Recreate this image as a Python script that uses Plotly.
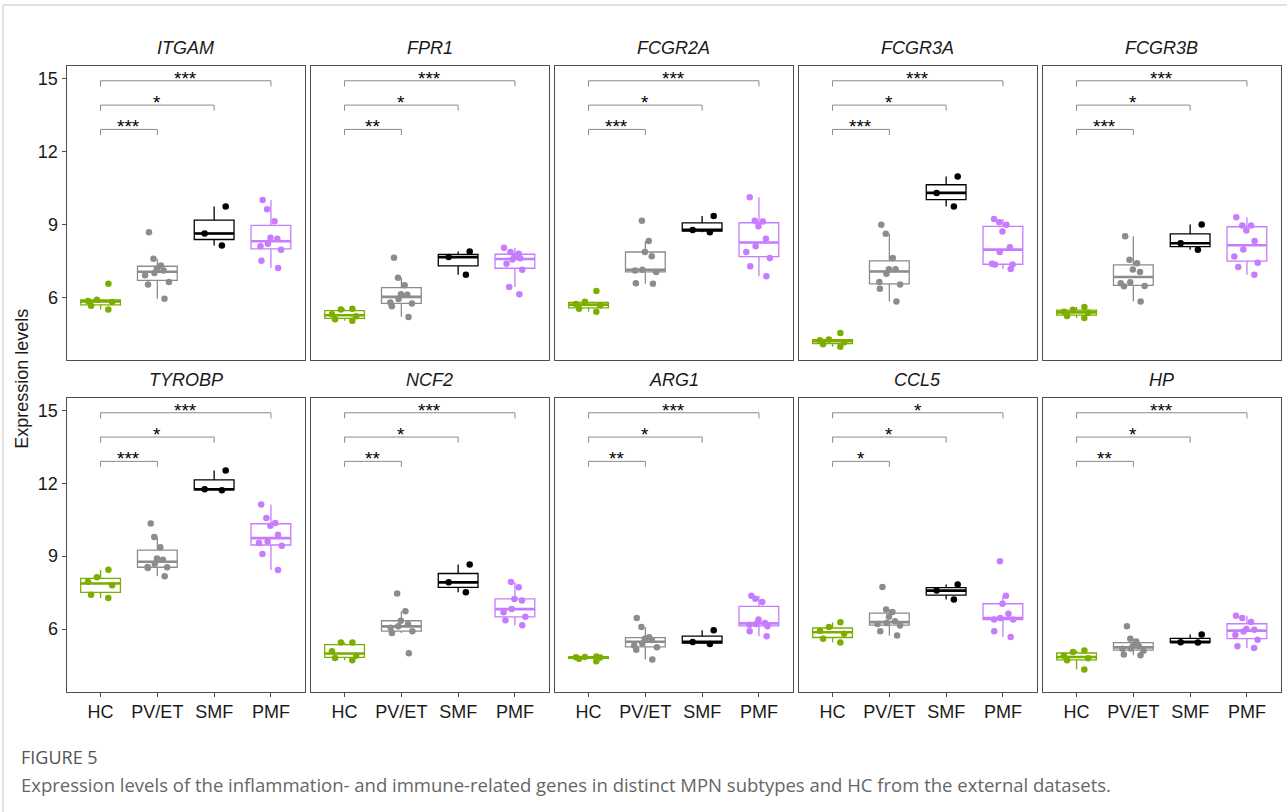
import numpy as np
import plotly.graph_objects as go

W, H = 1287, 812

groups = ["HC", "PV/ET", "SMF", "PMF"]
group_colors = ["#7CAE00", "#8C8C8C", "#000000", "#C77CFF"]
genes = ["ITGAM", "FPR1", "FCGR2A", "FCGR3A", "FCGR3B",
         "TYROBP", "NCF2", "ARG1", "CCL5", "HP"]

ITGAM = {"HC": [5.65, 5.85, 5.9, 5.5, 6.55, 5.8],
         "PV/ET": [8.67, 7.58, 7.31, 7.17, 6.9, 7.0, 6.52, 6.63, 5.94, 7.1],
         "SMF": [9.73, 8.62, 8.13],
         "PMF": [10.0, 9.62, 9.12, 8.45, 8.4, 8.2, 8.1, 7.95, 7.5, 7.2]}
FPR1 = {"HC": [5.03, 5.1, 5.5, 5.53, 5.22, 5.3],
        "PV/ET": [7.62, 6.8, 6.49, 6.12, 5.93, 5.78, 5.74, 5.63, 5.19, 6.1],
        "SMF": [7.88, 7.65, 6.93],
        "PMF": [7.79, 7.86, 8.03, 7.55, 7.38, 7.13, 6.42, 6.12, 7.6, 7.7]}
FCGR2A = {"HC": [6.26, 5.81, 5.67, 5.53, 5.4, 5.72],
          "PV/ET": [9.15, 8.31, 7.86, 7.69, 7.13, 7.04, 6.58, 6.56, 7.1],
          "SMF": [9.34, 8.77, 8.67],
          "PMF": [10.11, 9.15, 9.11, 8.92, 8.4, 8.1, 7.86, 7.61, 7.27, 6.86]}
FCGR3A = {"HC": [4.53, 4.26, 4.23, 4.07, 3.96, 4.15],
          "PV/ET": [8.98, 8.61, 7.61, 7.15, 7.15, 6.97, 6.63, 6.52, 6.35, 5.83],
          "SMF": [10.96, 10.29, 9.73],
          "PMF": [9.08, 9.22, 8.98, 8.7, 8.06, 7.86, 7.35, 7.35, 7.38, 7.16]}
FCGR3B = {"HC": [5.6, 5.49, 5.23, 5.36, 5.15, 5.4],
          "PV/ET": [8.51, 7.54, 7.4, 7.14, 7.04, 6.58, 6.46, 6.45, 5.83, 6.62],
          "SMF": [8.99, 8.22, 7.95],
          "PMF": [9.29, 8.95, 8.95, 8.74, 8.31, 7.96, 7.68, 7.42, 7.24, 6.93]}
TYROBP = {"HC": [8.44, 8.13, 7.8, 7.41, 7.28, 7.95],
          "PV/ET": [10.34, 9.79, 9.36, 8.9, 8.69, 8.54, 8.55, 8.51, 8.17, 8.85],
          "SMF": [12.52, 11.71, 11.75],
          "PMF": [11.12, 10.57, 10.25, 10.36, 9.88, 9.54, 9.43, 9.09, 8.43, 9.6]}
NCF2 = {"HC": [5.45, 5.45, 5.08, 4.9, 4.81, 4.71],
        "PV/ET": [7.46, 6.73, 6.34, 6.11, 5.91, 5.84, 5.0, 6.05, 6.2],
        "SMF": [8.65, 7.92, 7.51],
        "PMF": [7.94, 7.72, 7.24, 7.17, 6.82, 6.69, 6.5, 6.36, 6.15]}
ARG1 = {"HC": [4.78, 4.87, 4.85, 4.84, 4.67, 4.83],
        "PV/ET": [6.45, 6.08, 5.66, 5.6, 5.4, 5.32, 5.15, 4.75, 5.55, 5.25],
        "SMF": [5.95, 5.47, 5.38],
        "PMF": [7.37, 7.11, 6.39, 6.21, 6.18, 5.91, 6.11, 5.7, 7.25, 6.25]}
CCL5 = {"HC": [6.28, 6.08, 5.93, 5.8, 5.6, 5.45],
        "PV/ET": [7.73, 6.8, 6.5, 6.14, 6.21, 6.32, 5.91, 5.73, 6.7, 6.25],
        "SMF": [7.83, 7.58, 7.21],
        "PMF": [8.79, 7.37, 7.04, 6.63, 6.45, 6.39, 6.39, 5.91, 5.67]}
HP = {"HC": [5.12, 5.05, 4.9, 4.71, 4.33, 4.8],
      "PV/ET": [6.11, 5.6, 5.49, 5.29, 5.19, 4.95, 4.92, 5.11, 5.3, 5.2],
      "SMF": [5.77, 5.44, 5.46],
      "PMF": [6.55, 6.45, 6.29, 5.97, 5.9, 5.56, 5.29, 5.22, 6.0, 5.75]}

gene_data = [ITGAM, FPR1, FCGR2A, FCGR3A, FCGR3B, TYROBP, NCF2, ARG1, CCL5, HP]

# significance labels for HC vs PMF, HC vs SMF, HC vs PV/ET
sig_pmf = ["***", "***", "***", "***", "***", "***", "***", "***", "*", "***"]
sig_smf = ["*", "*", "*", "*", "*", "*", "*", "*", "*", "*"]
sig_pv = ["***", "**", "***", "***", "***", "***", "**", "**", "*", "**"]
bracket_levels = [14.9, 13.9, 12.9]
bracket_drop = 0.23

y_ticks = [6, 9, 12, 15]
y_range = [3.42, 15.52]
x_range = [-0.6, 3.6]
box_half = 0.35

FONT = "Arial, Liberation Sans, sans-serif"

# panel geometry (pixels)
col_x0 = [66.5 + i * 244 for i in range(5)]
panel_w = 238.5
row_y = [(65.7, 360.0), (397.7, 691.7)]

fig = go.Figure()
layout = dict(
    width=W, height=H, margin=dict(l=0, r=0, t=0, b=0),
    paper_bgcolor="white", plot_bgcolor="white",
    showlegend=False, boxmode="overlay",
    font=dict(family=FONT, color="#1a1a1a"),
)
shapes = []
annotations = []

def stats(v):
    a = np.sort(np.asarray(v, dtype=float))
    q1, med, q3 = np.percentile(a, [25, 50, 75])
    iqr = q3 - q1
    lo = a[a >= q1 - 1.5 * iqr].min()
    hi = a[a <= q3 + 1.5 * iqr].max()
    return q1, med, q3, lo, hi

for k, (gene, data) in enumerate(zip(genes, gene_data)):
    r, c = divmod(k, 5)
    n = k + 1
    xa = "x" if n == 1 else f"x{n}"
    ya = "y" if n == 1 else f"y{n}"
    x0p = col_x0[c]
    x1p = x0p + panel_w
    yt, yb = row_y[r]
    dom_x = [x0p / W, x1p / W]
    dom_y = [1 - yb / H, 1 - yt / H]

    layout[f"xaxis{'' if n == 1 else n}"] = dict(
        domain=dom_x, anchor=ya, type="category",
        categoryorder="array", categoryarray=groups,
        range=x_range, showgrid=False, zeroline=False,
        showline=True, mirror=True, linecolor="#4d4d4d", linewidth=1,
        ticks="outside" if r == 1 else "", ticklen=4, tickwidth=1,
        tickcolor="#4d4d4d", showticklabels=(r == 1),
        tickfont=dict(size=18, color="#1a1a1a", family=FONT),
        fixedrange=True,
    )
    layout[f"yaxis{'' if n == 1 else n}"] = dict(
        domain=dom_y, anchor=xa, range=y_range,
        tickvals=y_ticks, showgrid=False, zeroline=False,
        showline=True, mirror=True, linecolor="#4d4d4d", linewidth=1,
        ticks="outside" if c == 0 else "", ticklen=4, tickwidth=1,
        tickcolor="#4d4d4d", showticklabels=(c == 0),
        tickfont=dict(size=18, color="#1a1a1a", family=FONT),
        fixedrange=True,
    )

    for gi, (g, col) in enumerate(zip(groups, group_colors)):
        vals = data[g]
        q1, med, q3, lo, hi = stats(vals)
        fig.add_trace(go.Box(
            x=[g], q1=[q1], median=[med], q3=[q3],
            lowerfence=[lo], upperfence=[hi],
            boxpoints=False, width=2 * box_half, whiskerwidth=0,
            line=dict(color=col, width=1.3),
            fillcolor="rgba(255,255,255,0)",
            xaxis=xa, yaxis=ya, hoverinfo="skip",
        ))
        # thicker median line (ggplot fatten)
        shapes.append(dict(type="line", xref=xa, yref=ya,
                           x0=gi - box_half, x1=gi + box_half, y0=med, y1=med,
                           line=dict(color=col, width=2.6)))
        fig.add_trace(go.Box(
            x=[g] * len(vals), y=vals,
            boxpoints="all", jitter=0.75, pointpos=0, width=2 * box_half,
            line=dict(color="rgba(0,0,0,0)", width=0),
            fillcolor="rgba(0,0,0,0)",
            marker=dict(color=col, size=6.5, opacity=1, line=dict(width=0)),
            xaxis=xa, yaxis=ya, hoverinfo="y",
        ))

    # significance brackets
    comps = [(0, 3, sig_pmf[k]), (0, 2, sig_smf[k]), (0, 1, sig_pv[k])]
    for (a, b, lab), lvl in zip(comps, bracket_levels):
        bl = dict(color="#8a8a8a", width=1)
        shapes.append(dict(type="line", xref=xa, yref=ya, x0=a, x1=b,
                           y0=lvl, y1=lvl, line=bl))
        shapes.append(dict(type="line", xref=xa, yref=ya, x0=a, x1=a,
                           y0=lvl - bracket_drop, y1=lvl, line=bl))
        shapes.append(dict(type="line", xref=xa, yref=ya, x0=b, x1=b,
                           y0=lvl - bracket_drop, y1=lvl, line=bl))
        annotations.append(dict(xref=xa, yref=ya, x=(a + b) / 2, y=lvl,
                                text=lab, showarrow=False, yanchor="bottom",
                                yshift=-10,
                                font=dict(size=19, color="#000000", family=FONT)))

    # panel title
    title_y = yt - 18
    annotations.append(dict(xref="paper", yref="paper",
                            x=(x0p + x1p) / 2 / W, y=1 - title_y / H,
                            text=f"<i>{gene}</i>", showarrow=False,
                            xanchor="center", yanchor="middle",
                            font=dict(size=18, color="#1a1a1a", family=FONT)))

# y axis title
annotations.append(dict(xref="paper", yref="paper", x=22 / W,
                        y=1 - ((row_y[0][0] + row_y[1][1]) / 2) / H,
                        text="Expression levels", textangle=-90,
                        showarrow=False, xanchor="center", yanchor="middle",
                        font=dict(size=18, color="#1a1a1a", family=FONT)))

# caption
annotations.append(dict(xref="paper", yref="paper", x=19 / W, y=1 - 757 / H,
                        text="FIGURE 5", showarrow=False,
                        xanchor="left", yanchor="middle",
                        font=dict(size=18, color="#555555",
                                  family="Open Sans, sans-serif")))
annotations.append(dict(xref="paper", yref="paper", x=19 / W, y=1 - 784 / H,
                        text="Expression levels of the inflammation- and immune-related genes in distinct MPN subtypes and HC from the external datasets.",
                        showarrow=False, xanchor="left", yanchor="middle",
                        font=dict(size=18.5, color="#666666",
                                  family="Open Sans, sans-serif")))

# page frame lines
shapes.append(dict(type="line", xref="paper", yref="paper",
                   x0=3 / W, x1=1, y0=1 - 5 / H, y1=1 - 5 / H,
                   line=dict(color="#d9d9d9", width=1.5)))
shapes.append(dict(type="line", xref="paper", yref="paper",
                   x0=3 / W, x1=3 / W, y0=0, y1=1 - 5 / H,
                   line=dict(color="#d9d9d9", width=1.5)))

layout["shapes"] = shapes
layout["annotations"] = annotations
fig.update_layout(**layout)

fig.write_html("out.html", include_plotlyjs=True, full_html=True,
               config={"displayModeBar": False},
               post_script="document.body.style.margin='0';document.body.style.overflow='hidden';")
